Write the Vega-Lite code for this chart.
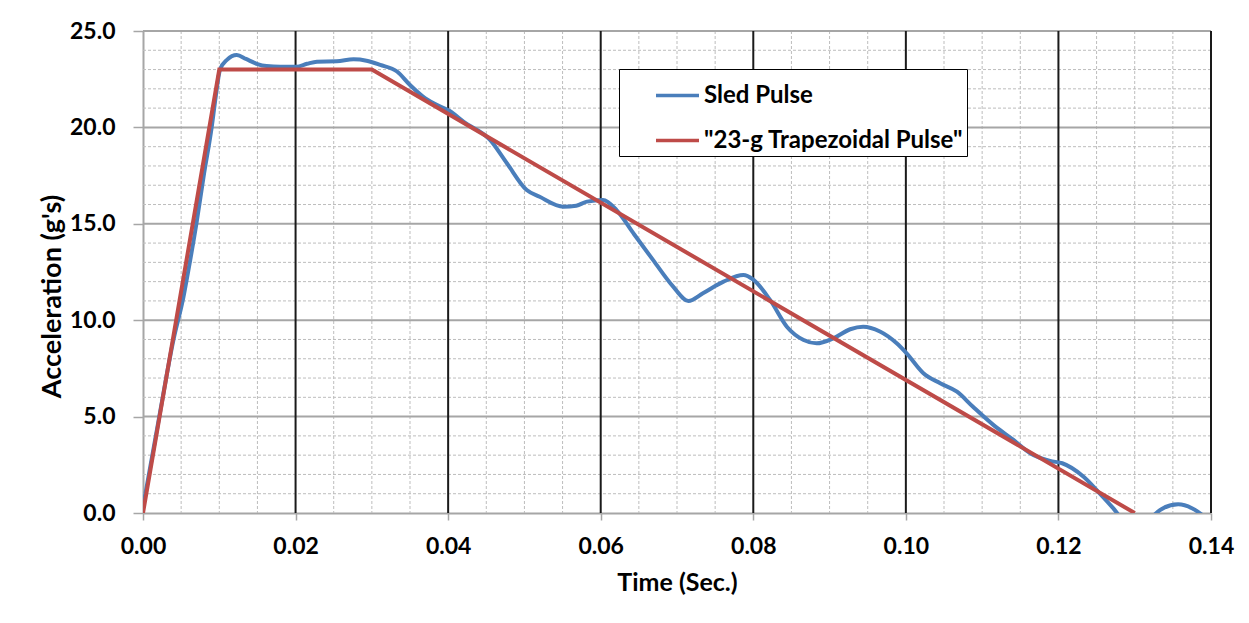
{
  "$schema": "https://vega.github.io/schema/vega-lite/v6.json",
  "width": 1068,
  "height": 482,
  "autosize": {"type": "none"},
  "padding": {"left": 143, "top": 31, "right": 38, "bottom": 110},
  "background": "white",
  "config": {
    "view": {"stroke": null},
    "font": "Lato",
    "axis": {
      "labelOverlap": false,
      "labelFlush": false,
      "labelFont": "Lato",
      "labelFontWeight": "bold",
      "labelFontSize": 23,
      "labelColor": "#000000",
      "tickColor": "#a6a6a6",
      "tickWidth": 1.5,
      "domainColor": "#a6a6a6",
      "domainWidth": 2,
      "grid": false,
      "titleFont": "Lato",
      "titleFontSize": 25,
      "titleFontWeight": "bold",
      "titleColor": "#000000"
    }
  },
  "datasets": {
    "sled": [
      {"t": 0.0, "a": 0.3, "s": "Sled Pulse"},
      {"t": 0.002, "a": 4.7, "s": "Sled Pulse"},
      {"t": 0.004, "a": 9.0, "s": "Sled Pulse"},
      {"t": 0.0053, "a": 11.2, "s": "Sled Pulse"},
      {"t": 0.006, "a": 12.7, "s": "Sled Pulse"},
      {"t": 0.007, "a": 15.0, "s": "Sled Pulse"},
      {"t": 0.008, "a": 17.6, "s": "Sled Pulse"},
      {"t": 0.009, "a": 20.0, "s": "Sled Pulse"},
      {"t": 0.0095, "a": 21.5, "s": "Sled Pulse"},
      {"t": 0.0101, "a": 23.0, "s": "Sled Pulse"},
      {"t": 0.011, "a": 23.5, "s": "Sled Pulse"},
      {"t": 0.0123, "a": 23.75, "s": "Sled Pulse"},
      {"t": 0.0135, "a": 23.55, "s": "Sled Pulse"},
      {"t": 0.0149, "a": 23.3, "s": "Sled Pulse"},
      {"t": 0.0162, "a": 23.18, "s": "Sled Pulse"},
      {"t": 0.018, "a": 23.15, "s": "Sled Pulse"},
      {"t": 0.0201, "a": 23.15, "s": "Sled Pulse"},
      {"t": 0.0215, "a": 23.3, "s": "Sled Pulse"},
      {"t": 0.0228, "a": 23.41, "s": "Sled Pulse"},
      {"t": 0.0254, "a": 23.43, "s": "Sled Pulse"},
      {"t": 0.0276, "a": 23.53, "s": "Sled Pulse"},
      {"t": 0.0293, "a": 23.46, "s": "Sled Pulse"},
      {"t": 0.0311, "a": 23.24, "s": "Sled Pulse"},
      {"t": 0.0333, "a": 22.9, "s": "Sled Pulse"},
      {"t": 0.035, "a": 22.2, "s": "Sled Pulse"},
      {"t": 0.0367, "a": 21.6, "s": "Sled Pulse"},
      {"t": 0.0381, "a": 21.25, "s": "Sled Pulse"},
      {"t": 0.0402, "a": 20.85, "s": "Sled Pulse"},
      {"t": 0.042, "a": 20.3, "s": "Sled Pulse"},
      {"t": 0.0455, "a": 19.35, "s": "Sled Pulse"},
      {"t": 0.0477, "a": 18.14, "s": "Sled Pulse"},
      {"t": 0.0503, "a": 16.75, "s": "Sled Pulse"},
      {"t": 0.052, "a": 16.4, "s": "Sled Pulse"},
      {"t": 0.0551, "a": 15.89, "s": "Sled Pulse"},
      {"t": 0.0568, "a": 15.94, "s": "Sled Pulse"},
      {"t": 0.0582, "a": 16.15, "s": "Sled Pulse"},
      {"t": 0.0603, "a": 16.23, "s": "Sled Pulse"},
      {"t": 0.0621, "a": 15.7, "s": "Sled Pulse"},
      {"t": 0.0643, "a": 14.5, "s": "Sled Pulse"},
      {"t": 0.0669, "a": 13.1, "s": "Sled Pulse"},
      {"t": 0.0695, "a": 11.74, "s": "Sled Pulse"},
      {"t": 0.0715, "a": 11.0, "s": "Sled Pulse"},
      {"t": 0.0734, "a": 11.4, "s": "Sled Pulse"},
      {"t": 0.0761, "a": 12.0, "s": "Sled Pulse"},
      {"t": 0.0787, "a": 12.34, "s": "Sled Pulse"},
      {"t": 0.08, "a": 12.1, "s": "Sled Pulse"},
      {"t": 0.0822, "a": 11.05, "s": "Sled Pulse"},
      {"t": 0.0844, "a": 9.66, "s": "Sled Pulse"},
      {"t": 0.0866, "a": 8.97, "s": "Sled Pulse"},
      {"t": 0.0883, "a": 8.8, "s": "Sled Pulse"},
      {"t": 0.0905, "a": 9.06, "s": "Sled Pulse"},
      {"t": 0.0927, "a": 9.53, "s": "Sled Pulse"},
      {"t": 0.0944, "a": 9.66, "s": "Sled Pulse"},
      {"t": 0.0966, "a": 9.41, "s": "Sled Pulse"},
      {"t": 0.0988, "a": 8.8, "s": "Sled Pulse"},
      {"t": 0.1001, "a": 8.28, "s": "Sled Pulse"},
      {"t": 0.1023, "a": 7.25, "s": "Sled Pulse"},
      {"t": 0.1045, "a": 6.73, "s": "Sled Pulse"},
      {"t": 0.1067, "a": 6.29, "s": "Sled Pulse"},
      {"t": 0.1088, "a": 5.51, "s": "Sled Pulse"},
      {"t": 0.1115, "a": 4.56, "s": "Sled Pulse"},
      {"t": 0.1141, "a": 3.79, "s": "Sled Pulse"},
      {"t": 0.1163, "a": 3.1, "s": "Sled Pulse"},
      {"t": 0.1189, "a": 2.7, "s": "Sled Pulse"},
      {"t": 0.1205, "a": 2.58, "s": "Sled Pulse"},
      {"t": 0.1233, "a": 1.88, "s": "Sled Pulse"},
      {"t": 0.1254, "a": 1.02, "s": "Sled Pulse"},
      {"t": 0.1272, "a": 0.24, "s": "Sled Pulse"},
      {"t": 0.129, "a": -0.6, "s": "Sled Pulse"},
      {"t": 0.1305, "a": -0.8, "s": "Sled Pulse"},
      {"t": 0.132, "a": -0.3, "s": "Sled Pulse"},
      {"t": 0.1335, "a": 0.2, "s": "Sled Pulse"},
      {"t": 0.1357, "a": 0.45, "s": "Sled Pulse"},
      {"t": 0.1375, "a": 0.25, "s": "Sled Pulse"},
      {"t": 0.139, "a": -0.15, "s": "Sled Pulse"},
      {"t": 0.14, "a": -0.5, "s": "Sled Pulse"}
    ],
    "trap": [
      {"t": 0.0, "a": 0.0, "s": "\"23-g Trapezoidal Pulse\""},
      {"t": 0.01, "a": 23.0, "s": "\"23-g Trapezoidal Pulse\""},
      {"t": 0.03, "a": 23.0, "s": "\"23-g Trapezoidal Pulse\""},
      {"t": 0.13, "a": 0.0, "s": "\"23-g Trapezoidal Pulse\""}
    ],
    "xminor": [{"t": 0.005}, {"t": 0.01}, {"t": 0.015}, {"t": 0.025}, {"t": 0.03}, {"t": 0.035}, {"t": 0.045}, {"t": 0.05}, {"t": 0.055}, {"t": 0.065}, {"t": 0.07}, {"t": 0.075}, {"t": 0.085}, {"t": 0.09}, {"t": 0.095}, {"t": 0.105}, {"t": 0.11}, {"t": 0.115}, {"t": 0.125}, {"t": 0.13}, {"t": 0.135}],
    "yminor": [{"a": 1}, {"a": 2}, {"a": 3}, {"a": 4}, {"a": 6}, {"a": 7}, {"a": 8}, {"a": 9}, {"a": 11}, {"a": 12}, {"a": 13}, {"a": 14}, {"a": 16}, {"a": 17}, {"a": 18}, {"a": 19}, {"a": 21}, {"a": 22}, {"a": 23}, {"a": 24}],
    "xmajor": [{"t": 0.02}, {"t": 0.04}, {"t": 0.06}, {"t": 0.08}, {"t": 0.1}, {"t": 0.12}, {"t": 0.14}],
    "ymajor": [{"a": 5}, {"a": 10}, {"a": 15}, {"a": 20}, {"a": 25}]
  },
  "layer": [
    {
      "data": {"name": "xminor"},
      "mark": {"type": "rule", "color": "#bdbdbd", "strokeWidth": 1, "strokeDash": [3, 2]},
      "encoding": {
        "x": {"field": "t", "type": "quantitative", "title": "Time (Sec.)"}
      }
    },
    {
      "data": {"name": "yminor"},
      "mark": {"type": "rule", "color": "#bdbdbd", "strokeWidth": 1, "strokeDash": [3, 2]},
      "encoding": {
        "y": {"field": "a", "type": "quantitative", "title": "Acceleration (g's)"}
      }
    },
    {
      "data": {"name": "ymajor"},
      "mark": {"type": "rule", "color": "#a6a6a6", "strokeWidth": 2},
      "encoding": {
        "y": {"field": "a", "type": "quantitative", "title": "Acceleration (g's)"}
      }
    },
    {
      "data": {"name": "xmajor"},
      "mark": {"type": "rule", "color": "#1a1a1a", "strokeWidth": 2},
      "encoding": {
        "x": {"field": "t", "type": "quantitative", "title": "Time (Sec.)"}
      }
    },
    {
      "data": {"name": "sled"},
      "mark": {"type": "line", "strokeWidth": 4, "interpolate": "monotone", "clip": true},
      "encoding": {
        "x": {
          "field": "t",
          "type": "quantitative",
          "title": "Time (Sec.)",
          "scale": {"domain": [0, 0.14], "nice": false, "zero": false},
          "axis": {
            "values": [0, 0.02, 0.04, 0.06, 0.08, 0.1, 0.12, 0.14],
            "format": ".2f",
            "labelOverlap": false,
            "labelPadding": 15,
            "tickSize": 7,
            "titlePadding": 12
          }
        },
        "y": {
          "field": "a",
          "type": "quantitative",
          "title": "Acceleration (g's)",
          "scale": {"domain": [0, 25], "nice": false, "zero": false},
          "axis": {
            "values": [0, 5, 10, 15, 20, 25],
            "format": ".1f",
            "labelOverlap": false,
            "labelPadding": 18,
            "tickSize": 10,
            "titleFontSize": 27,
            "titlePadding": 3,
            "titleY": 265
          }
        },
        "color": {
          "field": "s",
          "type": "nominal",
          "scale": {"domain": ["Sled Pulse", "\"23-g Trapezoidal Pulse\""], "range": ["#4a7ebb", "#be4b48"]},
          "legend": {
            "orient": "none",
            "legendX": 476,
            "legendY": 38,
            "title": null,
            "fillColor": "#ffffff",
            "strokeColor": "#000000",
            "padding": 3,
            "symbolType": "stroke",
            "symbolSize": 1849,
            "symbolStrokeWidth": 3.5,
            "symbolOffset": 32,
            "labelOffset": 3,
            "labelFont": "Lato",
            "labelFontWeight": "bold",
            "labelFontSize": 24,
            "labelColor": "#000000",
            "labelLimit": 600,
            "rowPadding": 9
          }
        }
      }
    },
    {
      "data": {"name": "trap"},
      "mark": {"type": "line", "strokeWidth": 4, "clip": true},
      "encoding": {
        "x": {"field": "t", "type": "quantitative"},
        "y": {"field": "a", "type": "quantitative"},
        "color": {"field": "s", "type": "nominal"}
      }
    }
  ]
}
